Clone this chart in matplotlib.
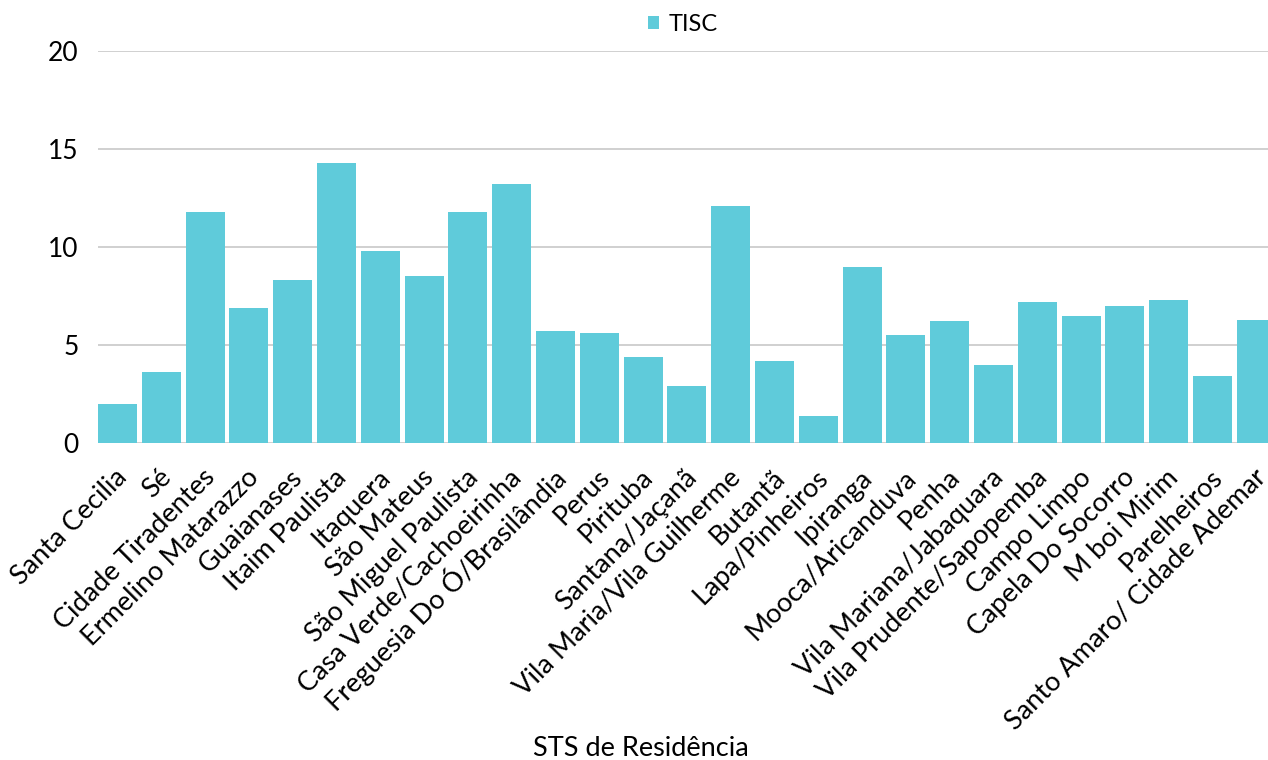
import matplotlib.pyplot as plt
from matplotlib.transforms import ScaledTranslation

plt.rcParams["font.family"] = ["Lato", "DejaVu Sans"]

# STS de Residência and TISC values
categories = [
    "Santa Cecilia", "Sé", "Cidade Tiradentes", "Ermelino Matarazzo",
    "Guaianases", "Itaim Paulista", "Itaquera", "São Mateus",
    "São Miguel Paulista", "Casa Verde/Cachoeirinha", "Freguesia Do Ó/Brasilândia",
    "Perus", "Pirituba", "Santana/Jaçanã", "Vila Maria/Vila Guilherme",
    "Butantã", "Lapa/Pinheiros", "Ipiranga", "Mooca/Aricanduva", "Penha",
    "Vila Mariana/Jabaquara", "Vila Prudente/Sapopemba", "Campo Limpo",
    "Capela Do Socorro", "M boi Mirim", "Parelheiros", "Santo Amaro/ Cidade Ademar",
]
tisc = [2.0, 3.6, 11.8, 6.9, 8.3, 14.3, 9.8, 8.5, 11.8, 13.2, 5.7, 5.6, 4.4, 2.9,
        12.1, 4.2, 1.4, 9.0, 5.5, 6.2, 4.0, 7.2, 6.5, 7.0, 7.3, 3.4, 6.3]
yticks = [0, 5, 10, 15, 20]

bar_color = "#5FCBDA"

fig = plt.figure(figsize=(12.68, 7.60), dpi=100)
ax = fig.add_axes([98 / 1268, 1 - 443 / 760, 1 - 98 / 1268, (443 - 51) / 760])

x = range(len(categories))
width = 0.89
ax.bar(x, tisc, width=width, color=bar_color, label="TISC", zorder=3)

ax.set_ylim(0, 20)
ax.set_xlim(-width / 2, -width / 2 + 1170 / 43.8)
ax.set_yticks(yticks)
ax.set_yticklabels([str(v) for v in yticks], fontsize=19)
ax.yaxis.grid(True, color="#C8C8C8", linewidth=1.2, zorder=0)
ax.tick_params(axis="y", length=0, pad=14)
ax.tick_params(axis="x", length=0, pad=22)
ax.set_xticks(list(x))
ax.set_xticklabels(categories, rotation=45, ha="right", va="center",
                   rotation_mode="anchor", fontsize=19.5)
# nudge rotated labels a little to the right, like the original
shift = ScaledTranslation(6 / 100, 0, fig.dpi_scale_trans)
for lbl in ax.get_xticklabels():
    lbl.set_transform(lbl.get_transform() + shift)
for s in ax.spines.values():
    s.set_visible(False)

fig.legend(loc="upper center", bbox_to_anchor=(683 / 1268, 1.01), frameon=False,
           fontsize=17, handlelength=0.45, handleheight=0.45, handletextpad=0.4)
fig.text(641 / 1268, 1 - 748 / 760, "STS de Residência", ha="center", va="center", fontsize=19.5)

fig.savefig("out.png", dpi=100)
